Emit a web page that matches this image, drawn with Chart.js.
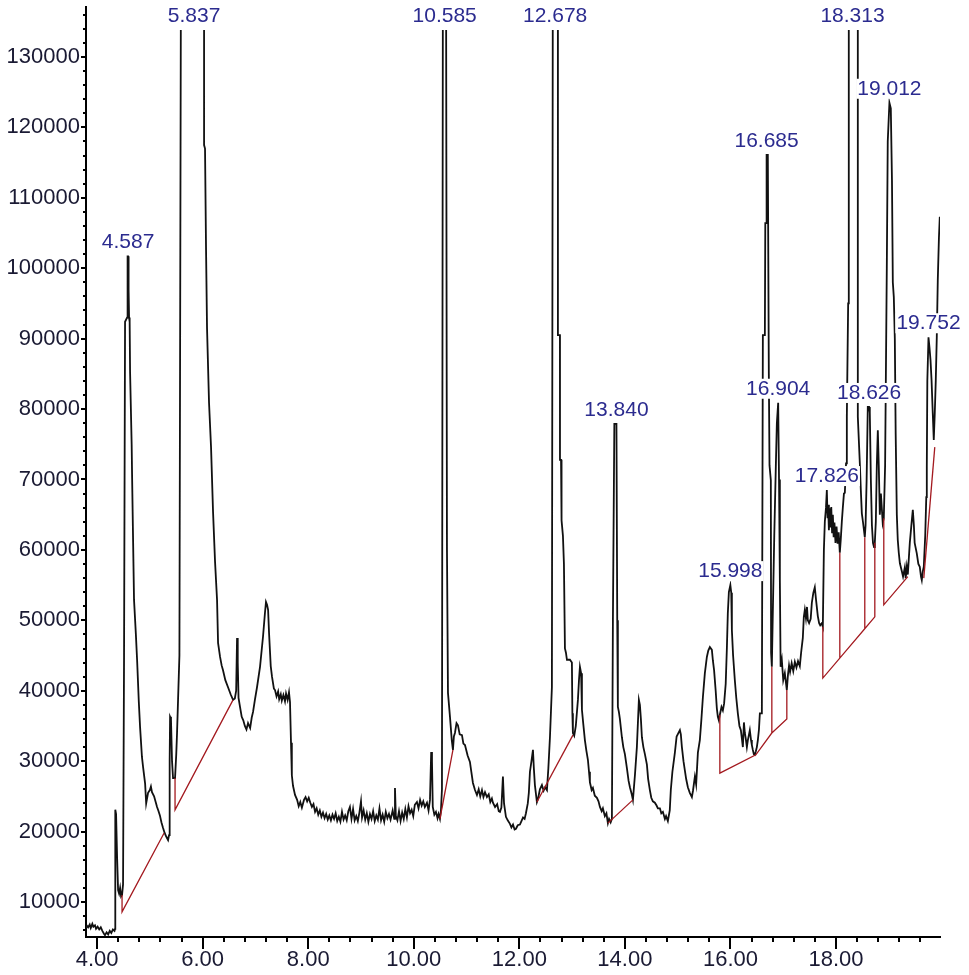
<!DOCTYPE html>
<html>
<head>
<meta charset="utf-8">
<title>TIC</title>
<script src="https://cdn.jsdelivr.net/npm/chart.js@4.4.1/dist/chart.umd.min.js"></script>
<style>
  html, body { margin: 0; padding: 0; background: #fff; }
  #wrap { width: 969px; height: 975px; }
</style>
</head>
<body>
<div id="wrap"><canvas id="tic"></canvas></div>
<script>
// retention time (min), abundance
const ticTrace = [
  [3.79, 6300], [3.81, 6600], [3.83, 6400], [3.86, 6800], [3.88, 6300], [3.91, 6900], [3.93, 6500], [3.96, 6700], [3.98, 6200],
  [4.01, 6500], [4.04, 6100], [4.07, 6400], [4.10, 5900], [4.13, 5500], [4.15, 5300], [4.18, 5700], [4.21, 5400], [4.24, 5900],
  [4.27, 5600], [4.30, 6100], [4.33, 5900],
  [4.341, 6200], [4.345, 23100], [4.36, 22500], [4.379, 16400], [4.398, 11700], [4.417, 11200], [4.436, 12000], [4.455, 10800],
  [4.473, 11000], [4.492, 12500],
  [4.511, 45000], [4.53, 92400], [4.568, 93000], [4.578, 101700], [4.587, 101700], [4.597, 97000], [4.606, 93000], [4.617, 92400],
  [4.625, 85300], [4.655, 75000], [4.663, 70600], [4.682, 61400], [4.70, 52900], [4.735, 48000], [4.758, 44400], [4.79, 38500],
  [4.814, 34900], [4.85, 30600], [4.871, 29200], [4.91, 26800], [4.93, 24000], [4.966, 25500], [5.00, 25900], [5.02, 26400],
  [5.04, 25600], [5.08, 25000], [5.11, 24200], [5.136, 23500], [5.16, 23000], [5.19, 22300], [5.22, 21300], [5.25, 20500],
  [5.28, 19800], [5.31, 19300], [5.345, 18800], [5.364, 19500],
  [5.375, 30000], [5.383, 36300], [5.40, 36000], [5.42, 30000], [5.439, 27600], [5.477, 27600], [5.50, 31000], [5.515, 34000],
  [5.534, 38700], [5.56, 45000],
  [5.591, 150000], [6.027, 150000], [6.027, 117500], [6.045, 117000], [6.064, 102900], [6.083, 91500], [6.121, 80900],
  [6.159, 74600], [6.197, 65400], [6.235, 58300], [6.273, 52900], [6.292, 46800], [6.33, 44800], [6.36, 43600], [6.386, 42900],
  [6.43, 41500], [6.481, 40500], [6.53, 39500], [6.576, 38700], [6.61, 38900], [6.635, 40000], [6.652, 47500], [6.665, 44000],
  [6.68, 39000], [6.708, 37700], [6.74, 36300], [6.77, 35800], [6.80, 35000], [6.83, 34500], [6.86, 35400], [6.90, 34700],
  [6.93, 36200], [6.955, 37000], [6.99, 38700], [7.03, 40500], [7.087, 43400], [7.144, 47700], [7.18, 51000], [7.20, 52600],
  [7.22, 52200], [7.24, 51500], [7.258, 48200], [7.29, 43500], [7.314, 42000], [7.35, 40300], [7.371, 40100], [7.40, 39200],
  [7.43, 39900], [7.45, 38800], [7.48, 39500], [7.50, 38600], [7.53, 39400], [7.56, 38500], [7.58, 39600], [7.61, 38700],
  [7.636, 39800], [7.655, 38400], [7.674, 32600], [7.69, 28000], [7.712, 26500], [7.75, 25200], [7.79, 24500], [7.82, 23600],
  [7.85, 24200], [7.88, 23400], [7.92, 24500], [7.95, 24900], [7.98, 24300], [8.01, 24800], [8.04, 24100], [8.07, 23500],
  [8.10, 23900], [8.13, 22800], [8.16, 23300], [8.19, 22400], [8.22, 23000], [8.25, 22100],
  [8.28, 22700], [8.31, 21900], [8.34, 22500], [8.37, 21700], [8.40, 22300], [8.43, 21600], [8.46, 22400], [8.49, 21800],
  [8.52, 22600], [8.55, 21500], [8.58, 22100], [8.61, 21400], [8.64, 22800], [8.67, 21700], [8.70, 22300], [8.73, 21600],
  [8.76, 22900], [8.79, 23500], [8.82, 21800], [8.85, 23200], [8.88, 21600], [8.91, 22200], [8.94, 21500], [8.97, 22700],
  [9.00, 24300], [9.02, 22000], [9.05, 23000], [9.08, 21700], [9.11, 22600], [9.14, 21400], [9.17, 22500], [9.20, 21800],
  [9.23, 22900], [9.26, 21500], [9.29, 22300], [9.32, 21700], [9.35, 23300], [9.38, 21600], [9.41, 22400], [9.44, 21400],
  [9.47, 22800], [9.50, 21900], [9.53, 22500], [9.56, 21700], [9.60, 23000], [9.63, 21800], [9.644, 26200], [9.66, 22200],
  [9.69, 21600], [9.72, 22900], [9.75, 21500], [9.78, 22700], [9.81, 21800], [9.84, 23200], [9.87, 22000], [9.90, 23600],
  [9.93, 22600], [9.96, 23100], [9.99, 22200], [10.02, 23800], [10.06, 24200], [10.09, 23300], [10.12, 24500], [10.15, 23700],
  [10.18, 24300], [10.21, 23500], [10.25, 24100], [10.28, 23000], [10.307, 24500], [10.33, 31300], [10.345, 30000],
  [10.36, 23500], [10.39, 22400], [10.42, 22800], [10.45, 21900], [10.47, 22500], [10.496, 21800], [10.515, 23000],
  [10.534, 26000],
  [10.553, 150000], [10.61, 150000], [10.629, 60000], [10.648, 39700], [10.686, 36300], [10.72, 33000], [10.742, 31600],
  [10.76, 33500], [10.78, 34000], [10.81, 35400], [10.837, 35100], [10.87, 33800], [10.913, 33700], [10.94, 32500],
  [10.97, 32300], [11.02, 30800], [11.064, 29900], [11.09, 28500], [11.121, 26900], [11.16, 25900], [11.197, 25200],
  [11.23, 26000], [11.26, 25000], [11.292, 25900], [11.32, 24900], [11.35, 25600], [11.386, 24900], [11.42, 25300],
  [11.45, 24200], [11.48, 24700], [11.50, 24100], [11.54, 23500], [11.58, 23900], [11.61, 22900], [11.633, 22800],
  [11.66, 23400], [11.689, 27800], [11.71, 24000], [11.746, 22100], [11.78, 21600], [11.822, 21100], [11.85, 20600],
  [11.88, 21000], [11.91, 20300], [11.936, 20400], [11.97, 20900], [12.011, 21000], [12.04, 21500], [12.07, 22000],
  [12.10, 21800], [12.125, 22600], [12.16, 24000], [12.18, 25500], [12.201, 28500], [12.23, 30000], [12.258, 31600],
  [12.275, 29000], [12.295, 26600], [12.333, 24200], [12.352, 24600], [12.39, 26000], [12.428, 26600], [12.46, 25800],
  [12.49, 26300], [12.523, 25900], [12.55, 29000], [12.58, 33400], [12.617, 40500],
  [12.636, 150000], [12.73, 150000], [12.731, 90500], [12.769, 90500], [12.77, 72800], [12.79, 72800], [12.80, 64200],
  [12.826, 62000], [12.845, 58000], [12.864, 46000], [12.883, 45400], [12.902, 44400], [12.958, 44400], [12.996, 44000],
  [13.005, 36800], [13.015, 34000], [13.04, 33600], [13.07, 35000], [13.11, 38700], [13.13, 41500], [13.148, 43400],
  [13.17, 42500], [13.186, 37300], [13.21, 35400], [13.242, 33000], [13.27, 31500], [13.299, 30200], [13.32, 28500],
  [13.337, 27000], [13.37, 25900], [13.394, 26200], [13.43, 25100], [13.47, 24800], [13.50, 24300], [13.527, 23500],
  [13.56, 22900], [13.583, 23300], [13.62, 22200], [13.65, 22600], [13.678, 21200], [13.70, 21800], [13.73, 21300],
  [13.754, 21800], [13.773, 50000], [13.80, 77900], [13.84, 77900], [13.855, 50000], [13.867, 37700], [13.886, 37000],
  [13.905, 36000], [13.943, 33400], [13.97, 32000], [14.00, 31000], [14.038, 29000], [14.07, 27200], [14.095, 26300],
  [14.13, 25300], [14.152, 24500], [14.19, 28000], [14.227, 32000], [14.265, 38700], [14.284, 38000], [14.303, 36000],
  [14.322, 33400], [14.35, 32000], [14.379, 31000], [14.417, 29500], [14.44, 27500], [14.473, 25900], [14.50, 24800],
  [14.53, 24300], [14.568, 24100], [14.60, 23700], [14.625, 23300], [14.663, 23300], [14.69, 22600], [14.72, 22800],
  [14.758, 21800], [14.78, 22200], [14.814, 21500], [14.85, 23000], [14.87, 25900], [14.90, 28500], [14.947, 31200],
  [14.98, 33500], [15.042, 34400], [15.06, 33800], [15.08, 32000], [15.11, 30000], [15.136, 28700], [15.16, 27500],
  [15.193, 26300], [15.23, 25500], [15.269, 24900], [15.29, 25800], [15.326, 27800], [15.35, 26700], [15.383, 31200],
  [15.42, 33000], [15.45, 36000], [15.477, 39000], [15.515, 42500], [15.553, 44800], [15.58, 45700], [15.61, 46200],
  [15.648, 45800], [15.667, 44300], [15.69, 42900], [15.72, 40000], [15.742, 37500], [15.761, 36300], [15.78, 35800],
  [15.799, 36600], [15.83, 37700], [15.856, 37200], [15.88, 38200], [15.91, 41000], [15.932, 46000], [15.95, 51000],
  [15.97, 54000], [15.998, 55000], [16.015, 53900], [16.027, 48600], [16.05, 45000], [16.083, 41500], [16.11, 39000],
  [16.14, 36800], [16.17, 35000], [16.197, 34400], [16.22, 33000], [16.235, 32000], [16.255, 35500], [16.273, 34000],
  [16.29, 33200], [16.311, 32000], [16.33, 33000], [16.367, 34400], [16.39, 33000], [16.405, 32300], [16.424, 31600],
  [16.443, 31000], [16.462, 30900], [16.481, 31400], [16.50, 32000], [16.519, 33000], [16.54, 34500], [16.557, 36800],
  [16.595, 36800],
  [16.614, 90500], [16.652, 90500], [16.66, 106400], [16.678, 106400], [16.685, 116100], [16.708, 116100], [16.727, 85000],
  [16.74, 72000], [16.765, 69900], [16.77, 45400], [16.784, 43400], [16.80, 50000], [16.83, 62000], [16.86, 72000],
  [16.879, 78000], [16.904, 80900], [16.92, 70000], [16.936, 55700], [16.95, 43400], [16.973, 44400], [17.00, 41500],
  [17.03, 42500], [17.068, 40100], [17.09, 42300], [17.11, 43600], [17.13, 42700], [17.16, 43900], [17.19, 42800],
  [17.22, 44100], [17.25, 43300], [17.28, 44200], [17.314, 43500], [17.34, 45500], [17.371, 47500], [17.39, 50500],
  [17.409, 51500], [17.43, 50300], [17.45, 51900], [17.466, 50000], [17.49, 49600], [17.52, 50200], [17.542, 52500],
  [17.57, 53900], [17.598, 54700], [17.62, 53000], [17.655, 50600], [17.68, 49600], [17.70, 49300], [17.731, 49600],
  [17.75, 49100], [17.77, 60000], [17.788, 64000], [17.81, 66000], [17.826, 68500], [17.84, 64500], [17.85, 66400],
  [17.865, 62800], [17.88, 65900], [17.895, 63200], [17.91, 66100], [17.925, 62500], [17.94, 65000], [17.955, 61800],
  [17.97, 63900], [17.99, 61000], [18.01, 63300], [18.03, 60900], [18.05, 62500], [18.072, 59600], [18.09, 61500],
  [18.11, 64000], [18.129, 66000], [18.15, 68000], [18.167, 68100], [18.19, 72300], [18.205, 78900], [18.23, 95000],
  [18.242, 150000], [18.413, 150000], [18.413, 78900], [18.451, 72300], [18.47, 68500], [18.489, 65200], [18.51, 64000],
  [18.545, 61800], [18.56, 63500], [18.58, 70000], [18.602, 80300], [18.626, 80300], [18.64, 79500], [18.66, 70000],
  [18.68, 63500], [18.70, 61000], [18.72, 60400], [18.735, 61000], [18.754, 64000], [18.773, 72000], [18.792, 77000],
  [18.81, 72000], [18.83, 65000], [18.85, 68000], [18.867, 66000], [18.885, 63800], [18.905, 64500], [18.93, 72000],
  [18.962, 100000], [18.98, 118000], [19.00, 121500], [19.012, 123500], [19.038, 122700], [19.06, 112500], [19.076, 98000],
  [19.095, 95900], [19.114, 90000], [19.13, 76600], [19.152, 65000], [19.17, 61400], [19.189, 59600], [19.21, 58100],
  [19.246, 57000], [19.27, 56200], [19.303, 57500], [19.32, 56000], [19.341, 57600], [19.36, 56500], [19.398, 61000],
  [19.436, 64200], [19.455, 65700], [19.475, 63500], [19.49, 61000], [19.53, 59500], [19.56, 58000], [19.587, 57600],
  [19.61, 56200], [19.625, 55700], [19.645, 57000], [19.663, 57600], [19.69, 62000], [19.71, 67500], [19.72, 71800],
  [19.73, 84000], [19.752, 90200], [19.77, 88800], [19.79, 87000], [19.81, 84100], [19.833, 79400], [19.852, 75600],
  [19.871, 79400], [19.89, 84100], [19.909, 90200], [19.928, 98300], [19.95, 104400], [19.966, 107300], [19.97, 106500]
];

// integration baselines (drop lines included)
const baselines = [
  [[4.473, 11000], [4.473, 8600], [5.27, 19800]],
  [[5.477, 27600], [5.477, 23100], [6.576, 38700]],
  [[10.496, 21800], [10.742, 31600]],
  [[12.333, 24200], [13.015, 33700]],
  [[13.678, 21200], [14.152, 24500]],
  [[15.799, 36600], [15.799, 28300], [16.481, 30900], [16.784, 34000], [16.784, 43400], [16.784, 34000],
   [17.068, 36000], [17.068, 40100]],
  [[17.75, 49100], [17.75, 41800], [18.072, 44640], [18.072, 59600], [18.072, 44640], [18.545, 48820],
   [18.545, 61800], [18.545, 48820], [18.735, 50500], [18.735, 61000]],
  [[18.905, 64500], [18.905, 52200], [19.36, 56200]],
  [[19.663, 56000], [19.871, 74600]]
];

const peakTimes = [4.587, 5.837, 10.585, 12.678, 13.840, 15.998, 16.685, 16.904, 17.826, 18.313, 18.626, 19.012, 19.752];
const peakHeights = [101700, 150000, 150000, 150000, 77900, 55000, 116100, 80900, 68500, 150000, 80300, 123500, 90200];

const xTickLabels = ['4.00', '6.00', '8.00', '10.00', '12.00', '14.00', '16.00', '18.00'];
const yTickLabels = ['10000', '20000', '30000', '40000', '50000', '60000', '70000',
                     '80000', '90000', '100000', '110000', '120000', '130000'];

const X_MIN = 3.79, X_MAX = 19.97;
const Y_MIN = 5030, Y_MAX = 137100;
const TOP_CUT = 23;   // saturated peaks are cut this many px below the axis top
const FONT = 'Liberation Sans, Arial, sans-serif';

const toXY = pts => pts.map(([t, v]) => ({ x: t, y: v }));

const datasets = [{
  label: 'TIC',
  data: toXY(ticTrace),
  borderColor: '#111',
  borderWidth: 1.8,
  pointRadius: 0,
  tension: 0,
  order: 1,
  clip: { left: 0, top: -TOP_CUT, right: 0, bottom: 0 }
}];
baselines.forEach((seg, i) => {
  datasets.push({
    label: 'base' + i,
    data: toXY(seg),
    borderColor: '#a3191f',
    borderWidth: 1.3,
    pointRadius: 0,
    tension: 0,
    order: 0
  });
});

// minor/major tick marks on both axes
const axisMarks = {
  id: 'axisMarks',
  afterDraw(chart) {
    const { ctx, chartArea: a, scales: { x, y } } = chart;
    ctx.save();
    ctx.strokeStyle = '#000';
    ctx.lineWidth = 2;
    ctx.beginPath();
    for (let i = 0; 4 + i * 0.4 < X_MAX - 0.2; i++) {
      const px = Math.round(x.getPixelForValue(4 + i * 0.4));
      ctx.moveTo(px, a.bottom);
      ctx.lineTo(px, a.bottom + (i % 5 === 0 ? 12 : 5));
    }
    for (let i = 0; 6000 + i * 2000 <= 136000; i++) {
      const v = 6000 + i * 2000;
      const py = Math.round(y.getPixelForValue(v));
      ctx.moveTo(a.left, py);
      ctx.lineTo(a.left - (v % 10000 === 0 ? 5 : 3), py);
    }
    ctx.stroke();
    ctx.restore();
  }
};

// retention time labels above the peaks
const peakTags = {
  id: 'peakTags',
  afterDatasetsDraw(chart) {
    const { ctx, chartArea: a, scales: { x, y } } = chart;
    ctx.save();
    ctx.font = '21px ' + FONT;
    ctx.textAlign = 'center';
    ctx.textBaseline = 'middle';
    peakTimes.forEach((t, i) => {
      const text = t.toFixed(3);
      const px = x.getPixelForValue(t);
      const py = Math.max(y.getPixelForValue(peakHeights[i]), a.top + TOP_CUT) - 14;
      const w = ctx.measureText(text).width;
      ctx.fillStyle = '#fff';
      ctx.fillRect(px - w / 2 - 1, py - 10, w + 2, 20);
      ctx.fillStyle = '#2b2b8f';
      ctx.fillText(text, px, py);
    });
    ctx.restore();
  }
};

new Chart(document.getElementById('tic').getContext('2d'), {
  type: 'line',
  data: { datasets },
  options: {
    responsive: true,
    maintainAspectRatio: false,
    animation: false,
    devicePixelRatio: 1,
    layout: { padding: { top: 7, right: 29, left: 0, bottom: 0 } },
    plugins: { legend: { display: false }, tooltip: { enabled: false } },
    scales: {
      x: {
        type: 'linear',
        min: X_MIN,
        max: X_MAX,
        afterBuildTicks: s => { s.ticks = xTickLabels.map(l => ({ value: Number(l) })); },
        afterFit: s => { s.height = 38; s.paddingLeft = 0; s.paddingRight = 0; },
        grid: { display: false, drawTicks: false },
        border: { display: true, color: '#000', width: 2 },
        ticks: {
          autoSkip: false,
          maxRotation: 0,
          padding: 10,
          color: '#1a1a33',
          font: { family: FONT, size: 22 },
          callback: v => xTickLabels.find(l => Number(l) === v) || ''
        }
      },
      y: {
        type: 'linear',
        min: Y_MIN,
        max: Y_MAX,
        afterBuildTicks: s => { s.ticks = yTickLabels.map(l => ({ value: Number(l) })); },
        afterFit: s => { s.width = 86; s.paddingTop = 0; s.paddingBottom = 0; },
        grid: { display: false, drawTicks: false },
        border: { display: true, color: '#000', width: 2 },
        ticks: {
          autoSkip: false,
          padding: 6,
          color: '#1a1a33',
          font: { family: FONT, size: 22 },
          callback: v => yTickLabels.find(l => Number(l) === v) || ''
        }
      }
    }
  },
  plugins: [axisMarks, peakTags]
});
</script>
</body>
</html>
